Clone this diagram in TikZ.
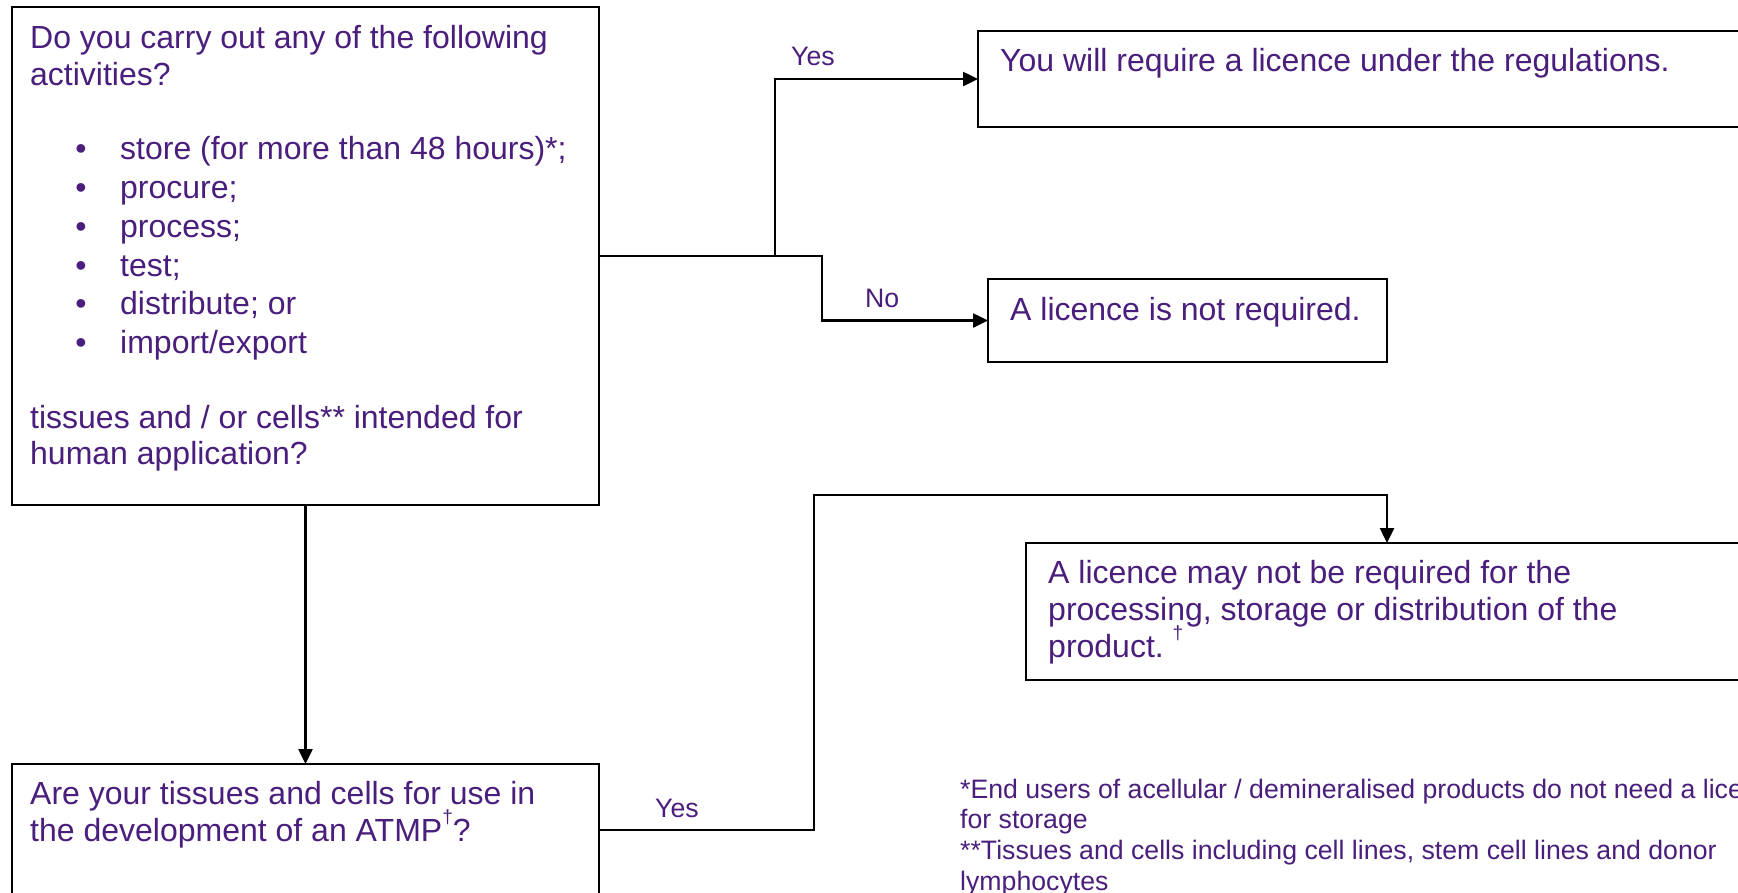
\documentclass[tikz,border=0pt]{standalone}
\usepackage{fontspec}
\setmainfont{Liberation Sans}
\usetikzlibrary{arrows.meta}
\definecolor{txt}{HTML}{4A1E7C}
\begin{document}
\begin{tikzpicture}[x=1pt,y=-1pt,
  box/.style={draw=black, line width=2pt, rectangle, inner sep=0pt, outer sep=0pt, anchor=north west},
  conn/.style={draw=black, line width=2.5pt},
  arr/.style={conn, -{Triangle[length=15pt,width=14pt]}},
  big/.style={text=txt, inner sep=0pt, anchor=base west, font=\fontsize{32}{36.8}\selectfont},
  small/.style={text=txt, inner sep=0pt, anchor=base west, font=\fontsize{26.67}{30.6}\selectfont},
  bul/.style={text=txt, inner sep=0pt, anchor=base, font=\fontsize{32}{36.8}\selectfont}
]
\useasboundingbox (0,0) rectangle (1738,892);
\fill[white] (0,0) rectangle (1738,892);
\clip (0,0) rectangle (1738,892);

% boxes
\node[box, minimum width=587pt, minimum height=498pt] (qa) at (12,7) {};
\node[box, minimum width=587pt, minimum height=132pt] (qb) at (12,764) {};
\node[box, minimum width=770pt, minimum height=96pt] (qc) at (978,31) {};
\node[box, minimum width=399pt, minimum height=83pt] (qd) at (988,279) {};
\node[box, minimum width=722pt, minimum height=137pt] (qe) at (1026,543) {};

% box A text
\node[big] (a1) at (30,48) {Do you carry out any of the following};
\node[big] (a2) at (30,85) {activities?};
\foreach \y/\t [count=\i] in {159/{store (for more than 48 hours)*;},198/{procure;},237/{process;},276/{test;},314/{distribute; or},353/{import/export}}{
  \node[bul] (b\i) at (81,\y) {•};
  \node[big] (l\i) at (120,\y) {\t};
}
\node[big] (a3) at (30,428) {tissues and / or cells** intended for};
\node[big] (a4) at (30,464) {human application?};

% box B text
\node[big] (bt1) at (30,804) {Are your tissues and cells for use in};
\node[big] (bt2) at (30,841) {the development of an ATMP\raisebox{0.55em}{\fontsize{19}{19}\selectfont †}?};

% box C, D, E text
\node[big] (ct) at (1000,71) {You will require a licence under the regulations.};
\node[big] (dt) at (1010,320) {A licence is not required.};
\node[big] (et1) at (1048,583) {A licence may not be required for the};
\node[big] (et2) at (1048,620) {processing, storage or distribution of the};
\node[big] (et3) at (1048,657) {product.\ \raisebox{0.55em}{\fontsize{19}{19}\selectfont †}};

% footnotes
\node[small] (f1) at (960,798) {*End users of acellular / demineralised products do not need a licence};
\node[small] (f2) at (960,828) {for storage};
\node[small] (f3) at (960,859) {**Tissues and cells including cell lines, stem cell lines and donor};
\node[small] (f4) at (960,890) {lymphocytes};

% labels
\node[small] (yes1) at (791,65) {Yes};
\node[small] (no1) at (865,307) {No};
\node[small] (yes2) at (655,817) {Yes};

% connectors
\coordinate (jy) at ([xshift=176pt]qa.east);
\coordinate (jn) at ([xshift=223pt]qa.east);
\coordinate (lv) at (814,495);
\draw[arr] (qa.east) -- (jn) |- (qd.west);
\draw[arr] (jy) |- (qc.west);
\draw[arr] (qa.south) -- (qb.north);
\draw[arr] (qb.east) -| (lv) -| (qe.north);
\end{tikzpicture}
\end{document}
